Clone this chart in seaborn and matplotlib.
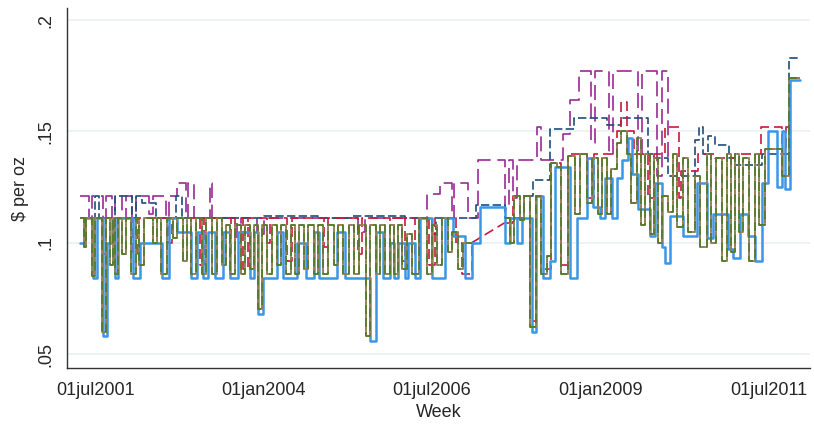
import numpy as np
import matplotlib
matplotlib.use("Agg")
import matplotlib.pyplot as plt
import seaborn as sns

# weekly price series, stored as change points (decimal year, $ per oz)
# NaN marks a stretch of missing weeks
blue_year = [2001.28, 2001.35, 2001.46, 2001.53, 2001.62, 2001.68, 2001.75, 2001.80, 2001.84, 2002.06,
             2002.17, 2002.49, 2002.60, 2002.72, 2002.92, 2003.01, 2003.10, 2003.18, 2003.28, 2003.40,
             2003.50, 2003.62, 2003.79, 2003.86, 2003.92, 2003.99, 2004.20, 2004.28, 2004.50, 2004.63,
             2004.75, 2004.82, 2005.09, 2005.21, 2005.58, 2005.66, 2005.77, 2005.88, 2005.93, 2006.00,
             2006.10, 2006.14, 2006.25, 2006.32, 2006.50, 2006.69, 2006.81, 2006.99, 2007.09, 2007.21,
             2007.58, 2007.66, 2007.76, 2007.84, 2007.98, 2008.04, 2008.15, 2008.25, 2008.33, 2008.55,
             2008.65, 2008.80, 2008.89, 2008.99, 2009.07, 2009.17, 2009.25, 2009.32, 2009.41, 2009.47,
             2009.56, 2009.74, 2009.81, 2009.91, 2009.96, 2010.03, 2010.23, 2010.43, 2010.58, 2010.67,
             2010.89, 2010.97, 2011.07, 2011.19, 2011.29, 2011.40, 2011.49, 2011.62, 2011.70, 2011.74,
             2011.81, 2011.96]
blue_val = [.100, .111, .084, .111, .058, .100, .111, .084, .111, .084,
            .100, .084, .111, .105, .084, .105, .084, .105, .084, .105,
            .084, .105, .084, .105, .068, .084, .105, .084, .100, .084,
            .105, .084, .105, .084, .056, .105, .084, .100, .084, .100,
            .084, .100, .084, .111, .084, .111, .103, .084, .100, .116,
            .100, .111, .100, .111, .060, .121, .084, .092, .134, .084,
            .111, .138, .116, .111, .129, .111, .129, .137, .147, .131,
            .115, .103, .127, .098, .091, .112, .103, .127, .102, .113,
            .097, .093, .113, .103, .092, .127, .150, .125, .150, .124,
            .173, .173]

green_year = [2001.28, 2001.33, 2001.36, 2001.45, 2001.50, 2001.60, 2001.66, 2001.72, 2001.76, 2001.80,
              2001.84, 2001.90, 2001.95, 2002.03, 2002.10, 2002.15, 2002.22, 2002.35, 2002.42, 2002.48,
              2002.56, 2002.66, 2002.72, 2002.80, 2002.86, 2002.92, 2003.00, 2003.08, 2003.14, 2003.24,
              2003.30, 2003.38, 2003.44, 2003.50, 2003.58, 2003.66, 2003.72, 2003.80, 2003.86, 2003.92,
              2003.98, 2004.05, 2004.12, 2004.20, 2004.26, 2004.33, 2004.40, 2004.46, 2004.52, 2004.60,
              2004.66, 2004.74, 2004.80, 2004.88, 2004.96, 2005.04, 2005.10, 2005.18, 2005.26, 2005.34,
              2005.42, 2005.52, 2005.58, 2005.66, 2005.72, 2005.80, 2005.88, 2005.94, 2006.00, 2006.06,
              2006.12, 2006.20, 2006.30, 2006.42, 2006.50, 2006.58, 2006.64, 2006.74, 2006.80, 2006.88,
              2006.96, 2007.09, np.nan,
              2007.58, 2007.66, 2007.72, 2007.80, 2007.86, 2007.96, 2008.04, 2008.12, 2008.20, 2008.26,
              2008.36, 2008.42, 2008.52, 2008.62, 2008.70, 2008.80, 2008.88, 2008.96, 2009.02, 2009.10,
              2009.16, 2009.24, 2009.30, 2009.40, 2009.46, 2009.54, 2009.60, 2009.66, 2009.74, 2009.80,
              2009.86, 2009.92, 2010.00, 2010.08, 2010.14, 2010.22, 2010.30, 2010.40, 2010.48, 2010.58,
              2010.64, 2010.72, 2010.80, 2010.88, 2010.94, 2011.00, 2011.06, 2011.12, 2011.20, 2011.30,
              2011.36, 2011.44, 2011.55, 2011.70, 2011.80, 2011.96]
green_val = [.111, .098, .111, .085, .111, .060, .111, .090, .111, .086,
             .111, .095, .111, .086, .111, .090, .111, .100, .111, .086,
             .111, .102, .111, .092, .111, .086, .111, .086, .111, .086,
             .111, .090, .108, .086, .108, .086, .108, .088, .108, .070,
             .108, .086, .108, .090, .108, .086, .108, .086, .108, .088,
             .108, .086, .108, .086, .108, .090, .108, .086, .108, .086,
             .108, .058, .108, .086, .108, .086, .108, .086, .108, .088,
             .104, .086, .111, .086, .108, .090, .111, .096, .105, .088,
             .100, .100, np.nan,
             .111, .100, .121, .110, .121, .062, .121, .086, .094, .136,
             .134, .086, .139, .113, .140, .118, .138, .113, .138, .113,
             .133, .145, .150, .140, .118, .147, .108, .140, .104, .138,
             .100, .121, .114, .140, .107, .138, .105, .130, .098, .140,
             .100, .138, .092, .140, .096, .140, .105, .138, .092, .140,
             .108, .142, .142, .130, .174, .174]

red_year = [2001.28, 2001.60, 2001.66, 2002.06, 2002.12, 2002.58, 2002.64, 2003.05, 2003.12, 2003.52,
            2003.58, 2003.70, 2003.76, 2004.05, 2004.10, 2004.35, 2004.42, 2004.90, 2004.96, 2005.40,
            2005.46, 2005.88, 2005.94, 2006.05, 2006.10, 2006.25, 2006.30, 2006.45, 2006.55, 2006.85,
            2006.95, 2007.09, np.nan,
            2007.58, 2007.70, 2007.86, 2007.96, 2008.04, 2008.12, 2008.26, 2008.42, 2008.52, 2008.75,
            2008.80, 2008.90, 2009.24, 2009.30, 2009.40, 2009.50, 2009.70, 2009.80, 2009.96, 2010.16,
            2010.20, 2010.45, 2010.70, 2011.00, 2011.38, 2011.70, 2011.76, 2011.81, 2011.96]
red_val = [.111, .095, .111, .095, .111, .100, .111, .090, .111, .094,
           .111, .088, .111, .100, .111, .092, .111, .098, .111, .095,
           .111, .100, .111, .092, .111, .095, .111, .090, .111, .100,
           .086, .100, np.nan,
           .109, .121, .121, .065, .121, .088, .136, .090, .140, .140,
           .120, .140, .150, .163, .150, .140, .120, .140, .152, .120,
           .132, .140, .138, .140, .152, .140, .152, .174, .174]

navy_year = [2001.28, 2001.50, 2001.56, 2001.80, 2002.05, 2002.10, 2002.20, 2002.40, 2002.70, 2002.78,
             2004.00, 2004.80, 2005.30, 2006.10, 2006.50, 2006.56, 2007.15, 2007.58, 2007.86, 2008.00,
             2008.25, 2008.60, 2009.10, 2009.30, 2009.70, 2009.80, 2010.00, 2010.40, 2010.46, 2010.52,
             2010.60, 2010.70, 2010.90, 2011.00, 2011.40, 2011.80, 2011.96]
navy_val = [.111, .121, .111, .121, .111, .121, .118, .111, .121, .111,
            .112, .111, .112, .111, .104, .111, .117, .111, .121, .128,
            .151, .156, .153, .156, .140, .138, .130, .146, .152, .140,
            .148, .144, .138, .135, .140, .183, .183]

purple_year = [2001.28, 2001.40, 2001.45, 2001.62, 2001.66, 2001.75, 2001.80, 2001.90, 2001.95, 2002.05,
               2002.10, 2002.30, 2002.36, 2002.55, 2002.60, 2002.72, 2002.84, 2002.88, 2002.97, 2003.20,
               2003.24, 2003.60, 2003.66, 2003.90, 2004.00, 2005.40, 2005.50, 2006.43, 2006.62, 2006.80,
               2006.83, 2007.04, 2007.18, 2007.58, 2007.64, 2007.70, 2007.76, 2008.06, 2008.12, 2008.45,
               2008.55, 2008.68, 2008.86, 2008.92, 2009.12, 2009.18, 2009.55, 2009.62, 2009.84, 2009.92,
               2010.00]
purple_val = [.121, .111, .121, .111, .121, .111, .121, .111, .121, .111,
              .121, .113, .121, .111, .121, .127, .111, .127, .111, .127,
              .111, .100, .111, .104, .111, .105, .111, .122, .127, .111,
              .127, .111, .137, .115, .137, .120, .137, .152, .137, .149,
              .164, .177, .145, .177, .140, .177, .140, .177, .130, .177,
              .138]

x_ticks = [2001.5, 2004.0, 2006.5, 2009.0, 2011.5]
x_ticklabels = ["01jul2001", "01jan2004", "01jul2006", "01jan2009", "01jul2011"]
y_ticks = [0.05, 0.10, 0.15, 0.20]
y_ticklabels = [".05", ".1", ".15", ".2"]


def pieces(years, vals):
    x = np.asarray(years, float)
    y = np.asarray(vals, float)
    cut = np.where(np.isnan(y))[0]
    out = []
    for xs, ys in zip(np.split(x, cut), np.split(y, cut)):
        keep = ~np.isnan(ys)
        out.append((xs[keep], ys[keep]))
    return out


def draw(ax, years, vals, bridge=False, **kws):
    segs = pieces(years, vals)
    for xs, ys in segs:
        sns.lineplot(x=xs, y=ys, ax=ax, drawstyle="steps-post", estimator=None, sort=False, **kws)
    if bridge:
        # missing weeks are joined by a straight line
        for (x0, y0), (x1, y1) in zip(segs[:-1], segs[1:]):
            sns.lineplot(x=[x0[-1], x1[0]], y=[y0[-1], y1[0]], ax=ax, estimator=None, sort=False, **kws)


sns.set_style("white")
plt.rcParams["font.family"] = ["Liberation Sans", "DejaVu Sans"]

fig = plt.figure(figsize=(8.14, 4.24), dpi=100)
ax = fig.add_axes([0.0823, 0.132, 0.9128, 0.849])

for yt in y_ticks:
    ax.axhline(yt, color="#e9f1f2", lw=1.2, zorder=0)

draw(ax, purple_year, purple_val, color="#9a2a96", lw=1.2, linestyle=(0, (9, 4)))
draw(ax, navy_year, navy_val, color="#1f4e79", lw=1.2, linestyle=(0, (5, 2)))
draw(ax, red_year, red_val, bridge=True, color="#c8193c", lw=1.2, linestyle=(0, (6, 3)))
draw(ax, blue_year, blue_val, color="#3a96e6", lw=1.8)
draw(ax, green_year, green_val, color="#5b7a2c", lw=1.4, linestyle=(0, (5, 2)), gapcolor="#9c7b5c")

ax.set_xlim(2001.08, 2012.11)
ax.set_ylim(0.0437, 0.2054)
ax.set_xticks(x_ticks)
ax.set_xticklabels(x_ticklabels, fontsize=13)
ax.set_yticks(y_ticks)
ax.set_yticklabels(y_ticklabels, fontsize=13, rotation=90, va="center")
ax.set_xlabel("Week", fontsize=13, labelpad=4)
ax.set_ylabel(r"\$ per oz", fontsize=13, labelpad=6)

for side in ["top", "right"]:
    ax.spines[side].set_visible(False)
for side in ["left", "bottom"]:
    ax.spines[side].set_color("#333333")
    ax.spines[side].set_linewidth(1.0)
ax.tick_params(axis="both", direction="out", length=7, width=1, color="#333333", pad=3)
ax.tick_params(axis="y", pad=2)

fig.savefig("out.png", dpi=100)
